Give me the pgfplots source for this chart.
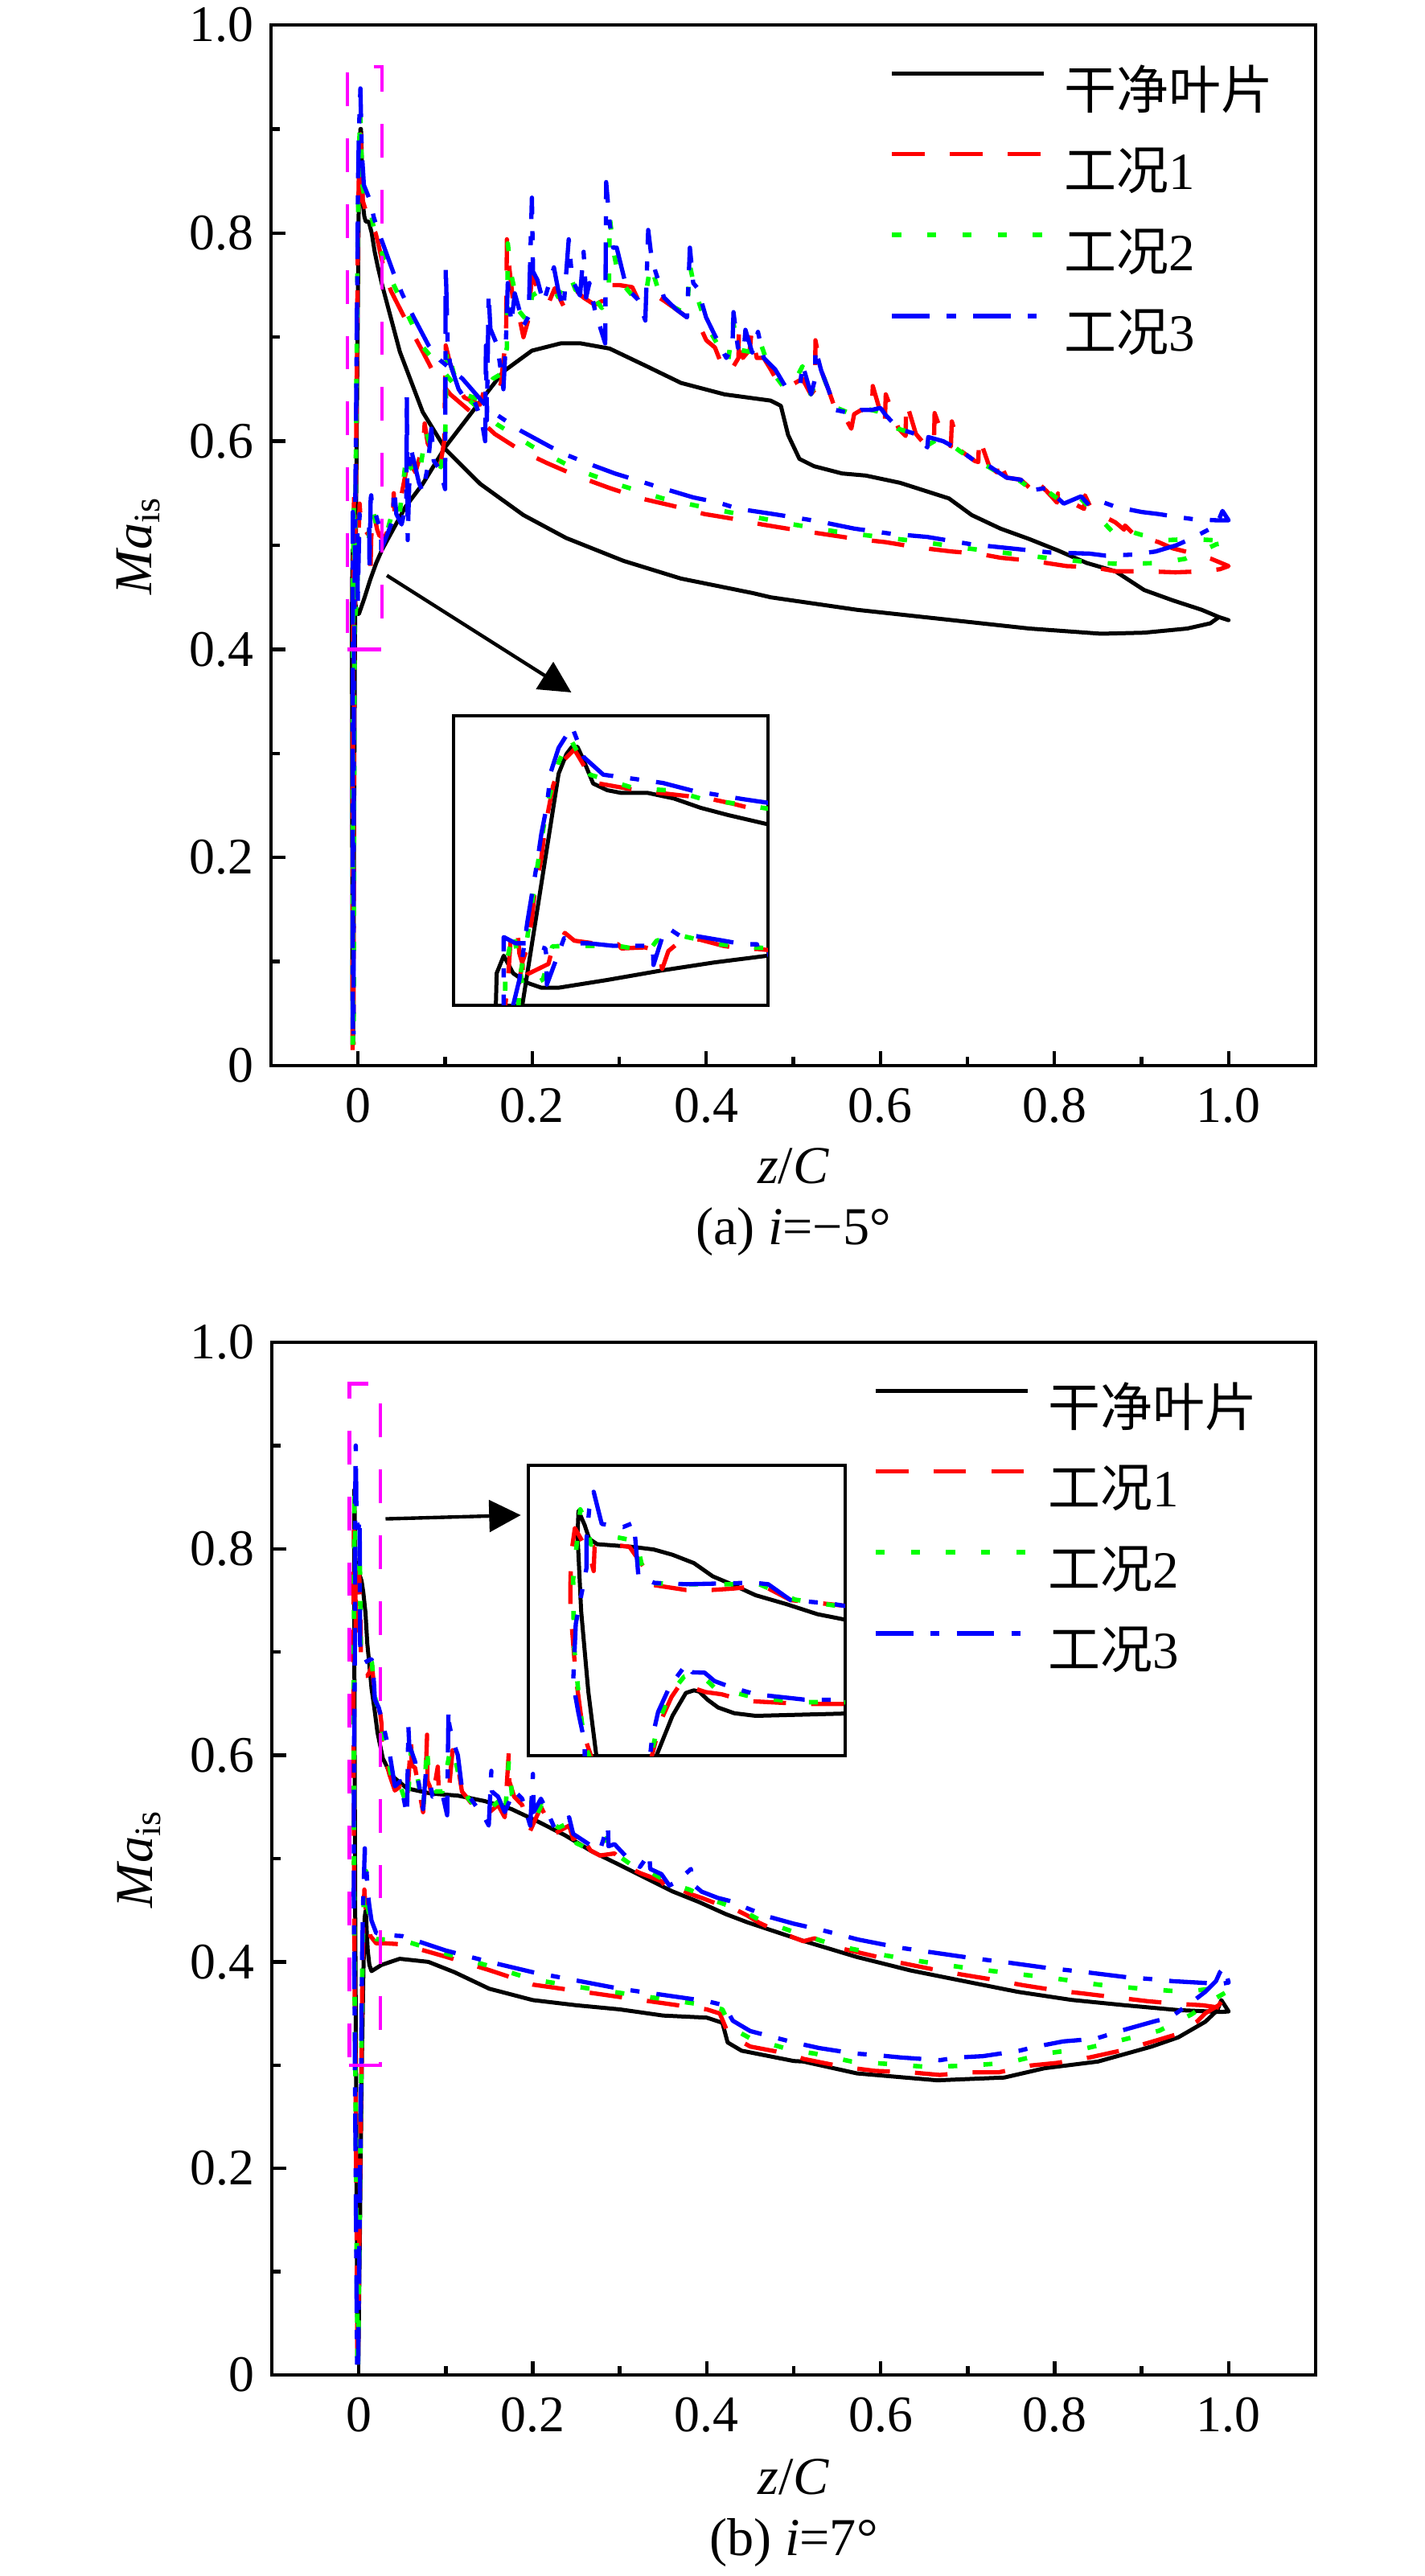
\documentclass[border=0pt]{standalone}
\usepackage{fontspec}
\setmainfont{Liberation Serif}
\newfontfamily\cjk{Noto Sans CJK SC}
\usepackage{pgfplots}
\usepackage{pgfplotstable}
\pgfplotsset{compat=1.18}
\usetikzlibrary{arrows.meta}
\definecolor{lgreen}{RGB}{0,255,0}
\definecolor{mred}{RGB}{255,0,0}
\definecolor{mblue}{RGB}{0,0,255}
\definecolor{mmag}{RGB}{255,0,255}

% ---------------- (a) i=-5 deg ----------------
\pgfplotstableread{
x y
-0.0064 0.020
-0.0070 0.403
-0.0069 0.462
-0.0060 0.496
-0.0048 0.462
-0.0031 0.444
-0.0012 0.434
0.0010 0.434
0.0072 0.449
0.0140 0.467
0.0209 0.483
0.0277 0.496
0.0545 0.537
0.0743 0.559
0.1007 0.595
0.1337 0.631
0.1670 0.667
0.1997 0.687
0.2327 0.694
0.2558 0.694
0.2890 0.689
0.3316 0.672
0.3710 0.656
0.4210 0.645
0.4740 0.639
0.4857 0.634
0.4940 0.606
0.5070 0.583
0.5237 0.576
0.5560 0.569
0.5831 0.567
0.6227 0.560
0.6788 0.545
0.7050 0.529
0.7380 0.516
0.7710 0.506
0.8040 0.495
0.8370 0.483
0.8700 0.475
0.9030 0.457
0.9361 0.447
0.9691 0.438
0.9890 0.431
1.0000 0.428
0.9890 0.431
0.9790 0.425
0.9526 0.420
0.9030 0.416
0.8536 0.415
0.7710 0.420
0.6720 0.429
0.5730 0.438
0.4740 0.450
0.4537 0.454
0.3710 0.468
0.3050 0.485
0.2390 0.507
0.1900 0.529
0.1403 0.559
0.1007 0.592
0.0743 0.628
0.0480 0.686
0.0277 0.750
0.0226 0.768
0.0191 0.782
0.0157 0.800
0.0123 0.811
0.0089 0.811
0.0072 0.816
0.0054 0.829
0.0041 0.877
0.0034 0.900
0.0027 0.900
0.0020 0.886
0.0010 0.848
-0.0036 0.403
-0.0057 0.020
}\TopK

\pgfplotstableread{
x y
-0.0062 0.015
-0.0058 0.400
-0.0055 0.440
-0.0051 0.532
-0.0043 0.550
-0.0040 0.500
-0.0036 0.480
-0.0035 0.440
-0.0030 0.460
-0.0003 0.480
0.0002 0.510
0.0010 0.520
0.0018 0.540
0.0030 0.525
0.0064 0.518
0.0086 0.518
0.0090 0.510
0.0120 0.512
0.0138 0.505
0.0142 0.470
0.0150 0.505
0.0170 0.530
0.0190 0.527
0.0220 0.515
0.0246 0.509
0.0263 0.509
0.0290 0.505
0.0330 0.512
0.0350 0.522
0.0400 0.528
0.0410 0.550
0.0420 0.530
0.0480 0.540
0.0560 0.575
0.0575 0.595
0.0590 0.580
0.0660 0.570
0.0750 0.598
0.0765 0.617
0.0800 0.598
0.0880 0.585
0.0940 0.575
0.0990 0.600
0.1007 0.692
0.1056 0.675
0.1155 0.652
0.1220 0.642
0.1400 0.635
0.1470 0.655
0.1550 0.660
0.1640 0.655
0.1700 0.700
0.1710 0.794
0.1740 0.765
0.1780 0.735
0.1850 0.720
0.1900 0.700
0.1950 0.715
0.2000 0.760
0.2070 0.745
0.2130 0.733
0.2200 0.735
0.2260 0.747
0.2360 0.730
0.2430 0.745
0.2500 0.745
0.2590 0.738
0.2720 0.731
0.2810 0.735
0.2823 0.752
0.2900 0.750
0.3003 0.750
0.3150 0.748
0.3217 0.736
0.3300 0.740
0.3420 0.740
0.3515 0.735
0.3650 0.727
0.3779 0.719
0.3880 0.719
0.4000 0.697
0.4100 0.690
0.4170 0.675
0.4270 0.666
0.4370 0.680
0.4375 0.707
0.4420 0.680
0.4500 0.688
0.4520 0.705
0.4580 0.680
0.4660 0.680
0.4740 0.669
0.4800 0.660
0.4906 0.653
0.5000 0.655
0.5105 0.660
0.5200 0.645
0.5250 0.650
0.5254 0.697
0.5320 0.668
0.5402 0.650
0.5485 0.630
0.5560 0.628
0.5666 0.612
0.5699 0.626
0.5780 0.630
0.5900 0.628
0.5913 0.653
0.6000 0.628
0.6050 0.615
0.6062 0.645
0.6210 0.612
0.6290 0.605
0.6297 0.638
0.6408 0.607
0.6540 0.594
0.6615 0.597
0.6623 0.627
0.6722 0.604
0.6810 0.595
0.6821 0.619
0.6920 0.591
0.7085 0.581
0.7125 0.580
0.7134 0.604
0.7250 0.576
0.7340 0.570
0.7350 0.584
0.7450 0.565
0.7612 0.563
0.7744 0.553
0.7800 0.550
0.7810 0.560
0.7910 0.552
0.8030 0.541
0.8040 0.550
0.8107 0.540
0.8220 0.540
0.8340 0.535
0.8350 0.548
0.8440 0.532
0.8560 0.528
0.8700 0.522
0.8800 0.515
0.8810 0.519
0.8932 0.509
0.9050 0.507
0.9196 0.503
0.9361 0.497
0.9600 0.492
0.9800 0.487
1.0000 0.480
0.9900 0.477
0.9700 0.475
0.9390 0.474
0.9070 0.475
0.8700 0.475
0.8440 0.479
0.8140 0.480
0.7750 0.485
0.7380 0.488
0.7120 0.492
0.6820 0.494
0.6420 0.498
0.6060 0.503
0.5730 0.506
0.5330 0.511
0.4930 0.516
0.4640 0.520
0.4270 0.526
0.3980 0.530
0.3610 0.538
0.3250 0.545
0.2890 0.555
0.2530 0.566
0.2170 0.579
0.1870 0.591
0.1570 0.607
0.1340 0.625
0.1060 0.645
0.0880 0.664
0.0750 0.685
0.0550 0.716
0.0380 0.744
0.0310 0.760
0.0232 0.790
0.0201 0.800
0.0143 0.810
0.0113 0.815
0.0054 0.831
0.0041 0.867
0.0030 0.895
0.0012 0.867
0.0003 0.825
-0.0007 0.747
-0.0012 0.685
-0.0021 0.613
-0.0024 0.567
-0.0031 0.506
-0.0036 0.485
-0.0045 0.400
-0.0052 0.020
}\TopR

\pgfplotstableread{
x y
-0.0060 0.020
-0.0058 0.470
-0.0048 0.545
-0.0035 0.430
-0.0010 0.450
0.0002 0.514
0.0027 0.515
0.0085 0.515
0.0125 0.505
0.0135 0.525
0.0165 0.535
0.0215 0.518
0.0260 0.512
0.0300 0.508
0.0350 0.518
0.0420 0.540
0.0480 0.532
0.0560 0.590
0.0600 0.575
0.0700 0.565
0.0780 0.610
0.0850 0.590
0.0950 0.575
0.1000 0.600
0.1020 0.690
0.1100 0.665
0.1220 0.645
0.1400 0.640
0.1550 0.660
0.1650 0.665
0.1710 0.690
0.1720 0.790
0.1760 0.760
0.1850 0.725
0.1950 0.715
0.2000 0.740
0.2100 0.745
0.2200 0.735
0.2300 0.740
0.2430 0.760
0.2500 0.745
0.2650 0.745
0.2800 0.728
0.2880 0.742
0.2890 0.816
0.2940 0.780
0.3000 0.755
0.3150 0.740
0.3300 0.738
0.3360 0.770
0.3450 0.745
0.3600 0.730
0.3780 0.722
0.3810 0.770
0.3870 0.745
0.4000 0.712
0.4150 0.690
0.4250 0.676
0.4310 0.715
0.4360 0.688
0.4500 0.686
0.4600 0.700
0.4700 0.676
0.4800 0.662
0.4906 0.650
0.5000 0.655
0.5105 0.672
0.5200 0.645
0.5320 0.668
0.5400 0.650
0.5500 0.632
0.5700 0.625
0.5800 0.632
0.6000 0.628
0.6200 0.612
0.6400 0.607
0.6540 0.596
0.6700 0.604
0.6920 0.590
0.7100 0.581
0.7250 0.575
0.7450 0.565
0.7600 0.562
0.7750 0.553
0.7900 0.553
0.8100 0.541
0.8300 0.545
0.8450 0.532
0.8700 0.510
0.8800 0.515
0.9000 0.510
0.9300 0.505
0.9592 0.506
0.9800 0.505
1.0000 0.503
0.9860 0.501
0.9500 0.487
0.9200 0.483
0.8800 0.482
0.8500 0.483
0.8000 0.487
0.7500 0.492
0.7000 0.497
0.6500 0.503
0.6000 0.508
0.5500 0.513
0.5000 0.520
0.4500 0.528
0.4000 0.536
0.3500 0.545
0.3000 0.558
0.2500 0.573
0.2000 0.595
0.1600 0.616
0.1200 0.645
0.1000 0.665
0.0750 0.690
0.0550 0.725
0.0400 0.752
0.0300 0.775
0.0240 0.789
0.0191 0.800
0.0157 0.815
0.0106 0.820
0.0050 0.846
0.0024 0.918
0.0010 0.870
-0.0005 0.786
-0.0020 0.640
-0.0030 0.530
-0.0040 0.450
-0.0050 0.020
}\TopG

\pgfplotstableread{
x y
-0.0060 0.035
-0.0060 0.400
-0.0060 0.480
-0.0060 0.532
-0.0045 0.520
-0.0031 0.520
-0.0007 0.510
-0.0006 0.500
-0.0005 0.440
0.0017 0.530
0.0027 0.520
0.0048 0.520
0.0080 0.515
0.0118 0.515
0.0130 0.515
0.0131 0.478
0.0145 0.545
0.0151 0.548
0.0164 0.535
0.0181 0.535
0.0220 0.525
0.0246 0.518
0.0263 0.518
0.0266 0.496
0.0300 0.503
0.0348 0.513
0.0400 0.525
0.0414 0.554
0.0440 0.530
0.0500 0.520
0.0555 0.540
0.0560 0.645
0.0570 0.505
0.0600 0.595
0.0644 0.580
0.0700 0.560
0.0743 0.551
0.0800 0.575
0.0842 0.612
0.0870 0.581
0.0940 0.573
0.1000 0.554
0.1007 0.769
0.1030 0.692
0.1056 0.675
0.1155 0.650
0.1221 0.642
0.1330 0.640
0.1420 0.620
0.1460 0.600
0.1469 0.692
0.1480 0.620
0.1500 0.742
0.1520 0.708
0.1600 0.692
0.1670 0.650
0.1700 0.700
0.1720 0.752
0.1760 0.713
0.1800 0.742
0.1840 0.730
0.1900 0.711
0.1960 0.720
0.1997 0.834
0.2010 0.763
0.2060 0.755
0.2130 0.733
0.2250 0.767
0.2300 0.745
0.2360 0.727
0.2420 0.794
0.2460 0.755
0.2550 0.740
0.2591 0.782
0.2620 0.738
0.2657 0.752
0.2723 0.725
0.2839 0.694
0.2850 0.849
0.2890 0.810
0.2930 0.786
0.2971 0.786
0.3085 0.747
0.3217 0.736
0.3300 0.716
0.3333 0.803
0.3366 0.780
0.3416 0.763
0.3515 0.738
0.3650 0.727
0.3779 0.719
0.3812 0.786
0.3850 0.752
0.3900 0.747
0.3998 0.719
0.4097 0.702
0.4230 0.680
0.4300 0.690
0.4313 0.724
0.4363 0.690
0.4429 0.685
0.4450 0.707
0.4528 0.685
0.4594 0.705
0.4660 0.680
0.4792 0.669
0.4906 0.653
0.5000 0.655
0.5080 0.655
0.5105 0.674
0.5204 0.645
0.5250 0.660
0.5254 0.689
0.5320 0.668
0.5402 0.650
0.5485 0.630
0.5600 0.628
0.5699 0.626
0.5780 0.630
0.5900 0.630
0.6000 0.632
0.6062 0.625
0.6210 0.612
0.6400 0.607
0.6540 0.594
0.6550 0.604
0.6722 0.600
0.6920 0.591
0.7085 0.581
0.7250 0.576
0.7450 0.565
0.7612 0.563
0.7744 0.553
0.7910 0.555
0.8107 0.540
0.8305 0.547
0.8404 0.538
0.8536 0.542
0.8700 0.537
0.9000 0.532
0.9196 0.530
0.9427 0.527
0.9600 0.525
0.9860 0.524
1.0000 0.524
0.9930 0.533
0.9860 0.519
0.9700 0.512
0.9560 0.506
0.9400 0.500
0.9160 0.494
0.8900 0.491
0.8590 0.490
0.8400 0.492
0.7960 0.493
0.7500 0.497
0.7040 0.501
0.6540 0.508
0.6130 0.511
0.5700 0.516
0.5290 0.523
0.4770 0.530
0.4370 0.535
0.4140 0.541
0.3850 0.546
0.3450 0.556
0.3220 0.562
0.2950 0.569
0.2660 0.578
0.2390 0.587
0.2200 0.595
0.1870 0.610
0.1600 0.625
0.1470 0.634
0.1200 0.660
0.0940 0.678
0.0810 0.692
0.0640 0.719
0.0510 0.741
0.0410 0.761
0.0280 0.791
0.0244 0.799
0.0181 0.815
0.0143 0.830
0.0106 0.838
0.0067 0.846
0.0042 0.880
0.0027 0.939
0.0010 0.898
0.0000 0.851
-0.0005 0.786
-0.0012 0.732
-0.0017 0.680
-0.0030 0.560
-0.0040 0.450
-0.0048 0.400
-0.0052 0.030
}\TopB

% ---------------- (b) i=7 deg ----------------
\pgfplotstableread{
x y
-0.0005 0.010
0.0035 0.300
0.0053 0.391
0.0068 0.443
0.0077 0.449
0.0083 0.446
0.0092 0.428
0.0104 0.410
0.0122 0.397
0.0146 0.391
0.0260 0.397
0.0470 0.403
0.0800 0.400
0.1100 0.390
0.1500 0.374
0.2000 0.363
0.2500 0.358
0.3000 0.354
0.3500 0.348
0.4000 0.346
0.4180 0.341
0.4240 0.322
0.4400 0.314
0.5000 0.304
0.5111 0.3035
0.5727 0.292
0.6651 0.2853
0.7421 0.288
0.7883 0.297
0.8499 0.3035
0.9115 0.318
0.9423 0.327
0.9731 0.342
0.9869 0.353
0.9916 0.363
1.0000 0.352
0.9916 0.3515
0.9423 0.3533
0.8807 0.358
0.8191 0.3632
0.7575 0.371
0.6959 0.3813
0.6343 0.3917
0.5727 0.4047
0.5111 0.4203
0.4464 0.4384
0.4218 0.4463
0.3910 0.458
0.3602 0.4684
0.3294 0.4814
0.2986 0.4944
0.2679 0.507
0.2371 0.5226
0.2063 0.5357
0.1755 0.548
0.1447 0.5557
0.1139 0.561
0.0830 0.563
0.0554 0.568
0.0370 0.581
0.0277 0.597
0.0215 0.622
0.0180 0.645
0.0146 0.665
0.0119 0.690
0.0098 0.708
0.0077 0.738
0.0053 0.757
0.0032 0.769
0.0008 0.775
-0.0031 0.781
-0.0040 0.793
-0.0045 0.824
-0.0052 0.857
-0.0053 0.800
-0.0049 0.629
-0.0041 0.446
-0.0032 0.300
-0.0015 0.010
}\BotK

\pgfplotstableread{
x y
-0.0010 0.010
0.0030 0.300
0.0040 0.380
0.0052 0.434
0.0064 0.470
0.0075 0.455
0.0090 0.445
0.0108 0.440
0.0134 0.425
0.0200 0.418
0.0300 0.418
0.0500 0.417
0.1000 0.405
0.1500 0.392
0.2000 0.378
0.2500 0.372
0.3000 0.366
0.3500 0.360
0.4000 0.354
0.4150 0.350
0.4250 0.330
0.4500 0.318
0.5000 0.310
0.5110 0.3061
0.5570 0.2983
0.5940 0.2944
0.6330 0.2931
0.6680 0.2905
0.7000 0.2931
0.7360 0.2931
0.7720 0.2996
0.8030 0.3022
0.8400 0.3074
0.8750 0.3139
0.9080 0.3217
0.9390 0.3295
0.9640 0.3424
0.9731 0.3502
0.9885 0.3580
0.9950 0.365
1.0000 0.356
0.9916 0.3554
0.9700 0.358
0.9423 0.3593
0.9069 0.3619
0.8683 0.3658
0.8298 0.3697
0.8021 0.3723
0.7636 0.3774
0.7297 0.3827
0.6912 0.388
0.6589 0.393
0.6204 0.3995
0.5910 0.4059
0.5510 0.4137
0.5240 0.4228
0.5111 0.420
0.4800 0.430
0.4600 0.438
0.4464 0.445
0.4300 0.452
0.4126 0.456
0.3941 0.462
0.3800 0.466
0.3664 0.472
0.3570 0.468
0.3479 0.478
0.3330 0.483
0.3233 0.486
0.3141 0.490
0.2940 0.505
0.2771 0.503
0.2663 0.508
0.2610 0.515
0.2602 0.526
0.2464 0.519
0.2418 0.532
0.2310 0.527
0.2248 0.524
0.2186 0.535
0.2094 0.550
0.1971 0.527
0.1878 0.552
0.1786 0.560
0.1730 0.575
0.1724 0.602
0.1678 0.540
0.1601 0.552
0.1432 0.540
0.1355 0.547
0.1263 0.557
0.1186 0.565
0.1139 0.590
0.1078 0.605
0.1040 0.570
0.0955 0.562
0.0920 0.565
0.0908 0.589
0.0847 0.558
0.0816 0.570
0.0790 0.575
0.0785 0.620
0.0770 0.580
0.0739 0.545
0.0647 0.588
0.0610 0.590
0.0600 0.615
0.0554 0.555
0.0477 0.570
0.0415 0.566
0.0354 0.581
0.0293 0.600
0.0265 0.610
0.0262 0.630
0.0246 0.641
0.0185 0.654
0.0154 0.687
0.0120 0.680
0.0097 0.677
0.0068 0.677
0.0026 0.690
0.0020 0.732
0.0005 0.775
-0.0019 0.781
-0.0034 0.775
-0.0035 0.720
-0.0040 0.760
-0.0056 0.8175
-0.0060 0.760
-0.0061 0.690
-0.0061 0.635
-0.0055 0.480
-0.0048 0.373
-0.0043 0.330
-0.0038 0.300
-0.0015 0.010
}\BotR

\pgfplotstableread{
x y
-0.0009 0.010
0.0029 0.300
0.0038 0.380
0.0050 0.440
0.0066 0.480
0.0083 0.488
0.0100 0.455
0.0120 0.445
0.0146 0.432
0.0200 0.422
0.0500 0.421
0.1000 0.408
0.1500 0.396
0.2000 0.383
0.2500 0.376
0.3000 0.370
0.3500 0.364
0.4000 0.358
0.4180 0.354
0.4280 0.336
0.4500 0.326
0.5000 0.314
0.5235 0.3113
0.5666 0.3035
0.6128 0.3009
0.6528 0.2983
0.7021 0.2996
0.7452 0.3022
0.7900 0.3113
0.8369 0.3165
0.8770 0.3243
0.9201 0.3333
0.9570 0.349
0.9817 0.3632
1.0000 0.372
0.9900 0.375
0.9500 0.371
0.9000 0.374
0.8500 0.378
0.8000 0.384
0.7500 0.389
0.7000 0.394
0.6500 0.400
0.6000 0.407
0.5500 0.4155
0.5000 0.429
0.4600 0.441
0.4400 0.450
0.4200 0.456
0.4000 0.462
0.3800 0.470
0.3650 0.474
0.3500 0.480
0.3350 0.487
0.3200 0.490
0.3000 0.502
0.2860 0.505
0.2850 0.520
0.2700 0.507
0.2500 0.515
0.2420 0.535
0.2300 0.530
0.2200 0.535
0.2100 0.552
0.2000 0.534
0.1980 0.560
0.1880 0.555
0.1760 0.562
0.1725 0.595
0.1680 0.540
0.1600 0.555
0.1500 0.548
0.1400 0.545
0.1260 0.558
0.1150 0.580
0.1080 0.608
0.1040 0.600
0.0960 0.565
0.0880 0.565
0.0800 0.585
0.0785 0.610
0.0740 0.548
0.0650 0.590
0.0600 0.605
0.0560 0.550
0.0470 0.572
0.0400 0.568
0.0350 0.590
0.0290 0.610
0.0240 0.640
0.0190 0.655
0.0150 0.690
0.0119 0.690
0.0070 0.690
0.0023 0.693
0.0013 0.788
-0.0010 0.797
-0.0038 0.780
-0.0045 0.840
-0.0050 0.860
-0.0058 0.700
-0.0057 0.550
-0.0050 0.400
-0.0044 0.320
-0.0040 0.300
-0.0015 0.010
}\BotG

\pgfplotstableread{
x y
-0.0008 0.010
0.0028 0.300
0.0030 0.337
0.0037 0.400
0.0050 0.458
0.0069 0.510
0.0075 0.490
0.0089 0.489
0.0100 0.470
0.0120 0.455
0.0146 0.440
0.0200 0.428
0.0300 0.426
0.0500 0.425
0.1000 0.411
0.1500 0.400
0.2000 0.390
0.2500 0.382
0.3000 0.374
0.3500 0.368
0.4000 0.362
0.4200 0.358
0.4300 0.343
0.4500 0.333
0.5000 0.322
0.5296 0.3165
0.5696 0.3113
0.5911 0.310
0.6235 0.3074
0.6680 0.3048
0.6880 0.3074
0.7175 0.3087
0.7590 0.3139
0.7780 0.3178
0.8100 0.323
0.8470 0.3256
0.8620 0.3295
0.8760 0.3333
0.9145 0.3424
0.9331 0.3463
0.9570 0.3606
0.9731 0.371
0.9854 0.3813
0.9900 0.390
0.9950 0.395
1.0000 0.380
0.9916 0.3787
0.9360 0.3813
0.9206 0.3827
0.8822 0.3852
0.8320 0.3904
0.7900 0.3943
0.7450 0.3995
0.7080 0.4033
0.6650 0.4085
0.6220 0.4137
0.5742 0.4216
0.5327 0.4307
0.5000 0.437
0.4700 0.444
0.4464 0.452
0.4311 0.458
0.4126 0.462
0.3941 0.468
0.3830 0.476
0.3818 0.490
0.3664 0.478
0.3570 0.474
0.3479 0.485
0.3350 0.490
0.3340 0.505
0.3233 0.492
0.3141 0.496
0.2940 0.514
0.2870 0.512
0.2864 0.532
0.2771 0.508
0.2663 0.513
0.2464 0.524
0.2418 0.540
0.2310 0.534
0.2248 0.530
0.2186 0.542
0.2094 0.558
0.2010 0.545
0.2002 0.582
0.1971 0.532
0.1878 0.558
0.1786 0.566
0.1678 0.545
0.1601 0.560
0.1530 0.565
0.1524 0.585
0.1494 0.532
0.1432 0.542
0.1355 0.550
0.1263 0.561
0.1186 0.568
0.1139 0.600
0.1078 0.615
0.1040 0.630
0.1031 0.644
0.1016 0.542
0.0955 0.565
0.0847 0.560
0.0816 0.575
0.0770 0.583
0.0739 0.548
0.0647 0.594
0.0580 0.610
0.0570 0.628
0.0554 0.542
0.0477 0.575
0.0415 0.570
0.0354 0.602
0.0293 0.625
0.0230 0.646
0.0185 0.654
0.0160 0.690
0.0146 0.693
0.0134 0.693
0.0069 0.690
0.0033 0.693
0.0015 0.708
0.0012 0.780
0.0010 0.830
-0.0002 0.820
-0.0026 0.827
-0.0035 0.900
-0.0040 0.860
-0.0043 0.793
-0.0043 0.727
-0.0055 0.600
-0.0058 0.465
-0.0052 0.397
-0.0045 0.330
-0.0045 0.300
-0.0020 0.010
}\BotB

\pgfplotsset{
  cleanst/.style={black, line width=0.8pt, line join=round},
  c1st/.style={mred, line width=0.85pt, dash pattern=on 6.5pt off 5pt, line join=round},
  c2st/.style={lgreen, line width=0.9pt, dash pattern=on 1.8pt off 5.2pt, line join=round},
  c3st/.style={mblue, line width=0.85pt, dash pattern=on 7.5pt off 3.4pt on 1.8pt off 3.4pt, line join=round},
  magrect/.style={mmag, line width=0.7pt, dash pattern=on 6.7pt off 6.4pt},
  mainaxis/.style={
    scale only axis, anchor=south west, clip mode=individual,
    xmin=-0.1, xmax=1.1, ymin=0, ymax=1,
    xtick={0,0.2,0.4,0.6,0.8,1.0}, xticklabels={0,0.2,0.4,0.6,0.8,1.0},
    ytick={0,0.2,0.4,0.6,0.8,1.0}, yticklabels={0,0.2,0.4,0.6,0.8,1.0},
    minor xtick={0.1,0.3,0.5,0.7,0.9}, minor ytick={0.1,0.3,0.5,0.7,0.9},
    tick align=inside, tick pos=left,
    major tick length=2.8pt, minor tick length=1.8pt,
    tick style={black, line width=0.7pt},
    axis line style={line width=0.75pt},
    ticklabel style={font=\fontsize{10.2}{12}\selectfont},
    xticklabel style={yshift=-1pt},
    label style={font=\fontsize{10.6}{12.5}\selectfont},
    xlabel={\textit{z}/\textit{C}},
    ylabel={\textit{Ma}\textsubscript{is}},
    legend cell align=left,
    legend image code/.code={\draw[##1] (0pt,3.8pt) -- (30.2pt,3.8pt);},
  },
  insetaxis/.style={
    scale only axis, anchor=south west,
    xtick=\empty, ytick=\empty,
    axis line style={line width=0.7pt},
    axis background/.style={fill=white},
  },
}

\begin{document}
\begin{tikzpicture}
\useasboundingbox (0,0) rectangle (283.52pt,512.48pt);

% ======== (a) ========
\begin{axis}[mainaxis, at={(53.92pt,300.48pt)}, width=207.84pt, height=207.04pt,
  xlabel style={at={(axis description cs:0.5,-0.0966)}, anchor=center},
  ylabel style={at={(axis description cs:-0.127,0.5)}, anchor=center},
  legend style={at={(rel axis cs:0.5914,1)}, anchor=north west, yshift=-7.95pt,
    draw=none, fill=none, inner sep=0pt, row sep=5.6pt, column sep=3.7pt,
    font=\fontsize{10.4}{12}\selectfont,
    nodes={inner sep=0pt, text height=8.5pt, text depth=2pt}}]
\addplot[cleanst] table {\TopK};
\addlegendentry{{\cjk 干净叶片}}
\addplot[c1st] table {\TopR};
\addlegendentry{{\cjk 工况}1}
\addplot[c2st] table {\TopG};
\addlegendentry{{\cjk 工况}2}
\addplot[c3st] table {\TopB};
\addlegendentry{{\cjk 工况}3}
\addplot[magrect, forget plot] coordinates {(-0.0124,0.4) (0.0277,0.4) (0.0277,0.96) (-0.0124,0.96) (-0.0124,0.4)};
\draw[-{Triangle[length=6.3pt,width=6.3pt]}, line width=0.7pt] (axis cs:0.0331,0.471) -- (axis cs:0.245,0.3586);
\node[font=\fontsize{10.6}{12.5}\selectfont, anchor=center] at (rel axis cs:0.5,0) [yshift=-33pt] {(a) \textit{i}=−5°};
\end{axis}

\begin{axis}[insetaxis, at={(90.24pt,312.48pt)}, width=62.56pt, height=57.6pt,
  xmin=-0.0124, xmax=0.0277, ymin=0.4, ymax=0.96]
\addplot[cleanst] table {\TopK};
\addplot[c1st] table {\TopR};
\addplot[c2st] table {\TopG};
\addplot[c3st] table {\TopB};
\end{axis}

% ======== (b) ========
\begin{axis}[mainaxis, at={(54.08pt,40pt)}, width=207.68pt, height=205.44pt,
  xlabel style={at={(axis description cs:0.5,-0.0988)}, anchor=center},
  ylabel style={at={(axis description cs:-0.1271,0.5)}, anchor=center},
  legend style={at={(rel axis cs:0.5754,1)}, anchor=north west, yshift=-7.95pt,
    draw=none, fill=none, inner sep=0pt, row sep=5.6pt, column sep=3.7pt,
    font=\fontsize{10.4}{12}\selectfont,
    nodes={inner sep=0pt, text height=8.5pt, text depth=2pt}}]
\addplot[cleanst] table {\BotK};
\addlegendentry{{\cjk 干净叶片}}
\addplot[c1st] table {\BotR};
\addlegendentry{{\cjk 工况}1}
\addplot[c2st] table {\BotG};
\addlegendentry{{\cjk 工况}2}
\addplot[c3st] table {\BotB};
\addlegendentry{{\cjk 工况}3}
\addplot[magrect, forget plot] coordinates {(-0.0108,0.3) (0.0246,0.3) (0.0246,0.96) (-0.0108,0.96) (-0.0108,0.3)};
\draw[-{Triangle[length=6.3pt,width=6.3pt]}, line width=0.7pt] (axis cs:0.0308,0.829) -- (axis cs:0.1863,0.8326);
\node[font=\fontsize{10.6}{12.5}\selectfont, anchor=center] at (rel axis cs:0.5,0) [yshift=-33.3pt] {(b) \textit{i}=7°};
\end{axis}

\begin{axis}[insetaxis, at={(105.12pt,163.15pt)}, width=63.04pt, height=57.8pt,
  xmin=-0.0108, xmax=0.0246, ymin=0.3, ymax=0.96]
\addplot[cleanst] table {\BotK};
\addplot[c1st] table {\BotR};
\addplot[c2st] table {\BotG};
\addplot[c3st] table {\BotB};
\end{axis}
\end{tikzpicture}
\end{document}
